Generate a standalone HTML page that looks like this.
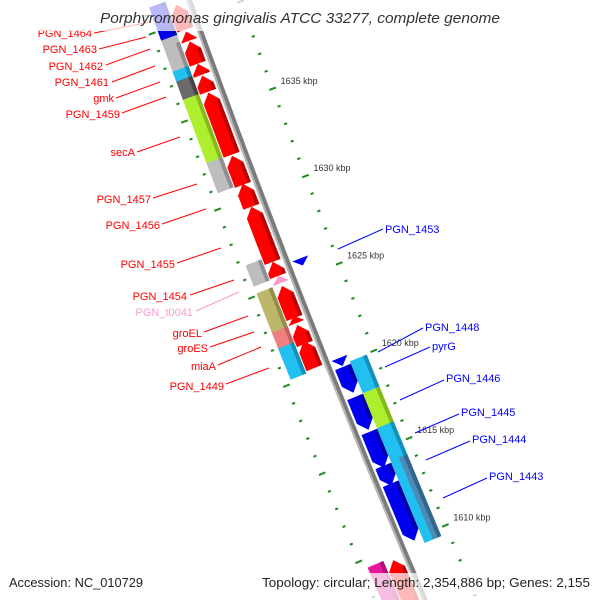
<!DOCTYPE html>
<html><head><meta charset="utf-8">
<style>
html,body{margin:0;padding:0;background:#fff;width:600px;height:600px;overflow:hidden;}
svg{display:block;font-family:"Liberation Sans",sans-serif;overflow:hidden;}
</style></head>
<body>
<svg id="chart" width="600" height="600" viewBox="0 0 600 600">
<defs><clipPath id="frame"><rect x="0" y="0" width="600" height="600"/></clipPath></defs>
<g clip-path="url(#frame)">
<g id="ticks"></g>
<g id="backbone"></g>
<g id="features"></g>
</g>
<g id="leaders" stroke-width="1">
<line x1="94" y1="33" x2="150" y2="22" stroke="#f00"/>
<line x1="99" y1="49" x2="146" y2="37" stroke="#f00"/>
<line x1="106" y1="65" x2="150" y2="49" stroke="#f00"/>
<line x1="112" y1="82" x2="155" y2="66" stroke="#f00"/>
<line x1="116" y1="98" x2="160" y2="82" stroke="#f00"/>
<line x1="122" y1="113" x2="166" y2="97" stroke="#f00"/>
<line x1="137" y1="152" x2="180" y2="137" stroke="#f00"/>
<line x1="153" y1="198" x2="197" y2="184" stroke="#f00"/>
<line x1="162" y1="224" x2="206" y2="209" stroke="#f00"/>
<line x1="177" y1="263" x2="221" y2="248" stroke="#f00"/>
<line x1="190" y1="295" x2="234" y2="280" stroke="#f00"/>
<line x1="196" y1="311" x2="239" y2="292" stroke="#ff99cc"/>
<line x1="204" y1="332" x2="248" y2="316" stroke="#f00"/>
<line x1="210" y1="347" x2="254" y2="332" stroke="#f00"/>
<line x1="218" y1="365" x2="261" y2="347" stroke="#f00"/>
<line x1="226" y1="384" x2="269" y2="368" stroke="#f00"/>
<line x1="338" y1="249" x2="383" y2="229" stroke="#00f"/>
<line x1="378" y1="352" x2="423" y2="328" stroke="#00f"/>
<line x1="385" y1="367" x2="430" y2="347" stroke="#00f"/>
<line x1="400" y1="400" x2="444" y2="380" stroke="#00f"/>
<line x1="415" y1="433" x2="459" y2="414" stroke="#00f"/>
<line x1="426" y1="460" x2="470" y2="441" stroke="#00f"/>
<line x1="443" y1="498" x2="487" y2="478" stroke="#00f"/>
</g>
<g font-size="11" text-anchor="end" fill="#f00">
<text x="92" y="37">PGN_1464</text>
<text x="97" y="53">PGN_1463</text>
<text x="103" y="70">PGN_1462</text>
<text x="109" y="86">PGN_1461</text>
<text x="114" y="102">gmk</text>
<text x="120" y="118">PGN_1459</text>
<text x="135" y="156">secA</text>
<text x="151" y="203">PGN_1457</text>
<text x="160" y="229">PGN_1456</text>
<text x="175" y="268">PGN_1455</text>
<text x="187" y="300">PGN_1454</text>
<text x="193" y="316" fill="#ff99cc">PGN_t0041</text>
<text x="202" y="337">groEL</text>
<text x="208" y="352">groES</text>
<text x="216" y="370">miaA</text>
<text x="224" y="390">PGN_1449</text>
</g>
<g font-size="11" fill="#00f">
<text x="385" y="233">PGN_1453</text>
<text x="425" y="331">PGN_1448</text>
<text x="432" y="350">pyrG</text>
<text x="446" y="382">PGN_1446</text>
<text x="461" y="416">PGN_1445</text>
<text x="472" y="443">PGN_1444</text>
<text x="489" y="480">PGN_1443</text>
</g>
<rect x="0" y="0" width="600" height="31" fill="#fff" opacity="0.72"/>
<rect x="0" y="573" width="600" height="27" fill="#fff" opacity="0.72"/>
<text x="300" y="23" text-anchor="middle" font-size="14.5" font-style="italic" fill="#333" textLength="400" lengthAdjust="spacingAndGlyphs">Porphyromonas gingivalis ATCC 33277, complete genome</text>
<text x="9" y="587" font-size="13" fill="#222" textLength="134" lengthAdjust="spacingAndGlyphs">Accession: NC_010729</text>
<text x="590" y="587" font-size="13" fill="#222" text-anchor="end" textLength="328" lengthAdjust="spacingAndGlyphs">Topology: circular; Length: 2,354,886 bp; Genes: 2,155</text>
</svg>
<script>
// ---- data (kbp coordinates) ----
var featStart = [1641.01,1639.48,1638.91,1637.65,1636.97,1636.00,1632.41,1630.81,1629.50,1626.36,1625.56,1624.99,1623.28,1622.77,1621.86,1609.38,
 1641.36,1639.48,1639.08,1637.71,1637.14,1636.11,1632.52,1626.70,1625.11,1622.88,1621.98,1609.54,
 1626.00,1620.32,1619.81,1618.10,1616.10,1614.16,1613.14,
 1619.95,1618.12,1616.13,1614.25];
var featEnd = [1639.59,1638.96,1637.65,1637.02,1636.05,1632.46,1630.75,1629.50,1626.36,1625.56,1625.16,1623.17,1622.88,1621.69,1620.32,1606.80,
 1639.42,1639.08,1637.65,1637.08,1636.05,1632.52,1630.81,1625.50,1622.83,1621.69,1620.21,1606.80,
 1625.60,1619.86,1618.33,1616.22,1614.05,1613.02,1609.89,
 1618.12,1615.96,1609.57,1609.57];
var featTrack = ['r','r','r','r','r','r','r','r','r','r','r','r','r','r','r','r',
 'g','g','g','g','g','g','g','g','g','g','g','g',
 'b','b','b','b','b','b','b',
 'c','c','c','s'];
var featKind = ['gene','gene','gene','gene','gene','gene','gene','gene','gene','gene','trna','gene','gene','gene','gene','gene',
 'blue','gray','gray','cyan','dgray','lime','gray','gray','khaki','coral','cyan','magenta',
 'gene','gene','gene','gene','gene','gene','gene',
 'cyan','lime','cyan','steel'];
var tickKbp = [];
for (var k = 1642; k >= 1604; k--) tickKbp.push(k);
var majorKbp = [1640,1635,1630,1625,1620,1615,1610,1605];
var labelKbp = [1635,1630,1625,1620,1615,1610];

// ---- geometry ----
var NS = 'http://www.w3.org/2000/svg';
function bx(t){return 189+0.36*t+5.5e-5*t*t;}
function nrm(t){var d=0.36+1.1e-4*t;var L=Math.sqrt(1+d*d);return [1/L,-d/L];}
function P(t,d){var n=nrm(t);return [bx(t)+d*n[0], t+d*n[1]];}
function tOf(kbp){return 105.5+(1635-kbp)*17.54;}
var trackD = {r:[-22,-5], g:[-40,-23], b:[5,22], c:[22,40], s:[31,40]};
var colors = {gene:null, trna:['#ff99cc','#e07aa8'], blue:['#0000ee','#0000aa'], gray:['#bdbdbd','#8f8f8f'],
  cyan:['#22c0f0','#1590b8'], dgray:['#6a6a6a','#444'], lime:['#adef2f','#84b81e'], khaki:['#bdb76b','#948e4c'],
  coral:['#f08080','#c86060'], magenta:['#e8179a','#b0107a'], steel:['#4f86b0','#36658c']};
function pts(a){return a.map(function(p){return p[0].toFixed(1)+','+p[1].toFixed(1);}).join(' ');}
function poly(parent, arr, fill, op){
  var e=document.createElementNS(NS,'polygon');
  e.setAttribute('points', pts(arr)); e.setAttribute('fill', fill);
  if(op) e.setAttribute('opacity', op);
  parent.appendChild(e); return e;
}

// backbone
var bb=document.getElementById('backbone');
var line=[]; for(var t=-30;t<=620;t+=10) line.push(P(t,0));
function pl(w,c){var e=document.createElementNS(NS,'polyline');e.setAttribute('points',pts(line));e.setAttribute('fill','none');e.setAttribute('stroke',c);e.setAttribute('stroke-width',w);bb.appendChild(e);return e;}
pl(6,'#b5b5b5'); var core=pl(3.5,'#7a7a7a');
core.setAttribute('transform','translate(1,0)');

// ticks
var tg=document.getElementById('ticks');
tickKbp.forEach(function(k){
  var t=tOf(k), maj=majorKbp.indexOf(k)>=0;
  [-46,48].forEach(function(d){
    var hl=maj?3.5:1.6;
    var a=P(t,d-hl), b=P(t,d+hl);
    if(a[1]>600||b[1]>600) return;
    var e=document.createElementNS(NS,'line');
    e.setAttribute('x1',a[0]);e.setAttribute('y1',a[1]);e.setAttribute('x2',b[0]);e.setAttribute('y2',b[1]);
    e.setAttribute('stroke','#1f8a1f');e.setAttribute('stroke-width',2);
    
    
    tg.appendChild(e);
  });
});
labelKbp.forEach(function(k){
  var p=P(tOf(k),48);
  var e=document.createElementNS(NS,'text');
  e.setAttribute('x',p[0]+8);e.setAttribute('y',p[1]-5);
  e.setAttribute('font-size','9');e.setAttribute('fill','#333');
  e.textContent=k+' kbp';
  
  
  tg.appendChild(e);
});

// features
var fg=document.getElementById('features');
for(var i=0;i<featStart.length;i++){
  var t0=tOf(featStart[i]), t1=tOf(featEnd[i]);
  var tr=featTrack[i], dd=trackD[tr], d0=dd[0], d1=dd[1], dm=(d0+d1)/2;
  var kind=featKind[i];
  var c = colors[kind] || (tr==='r'?['#ff0000','#c00000']:['#0000ee','#0000a8']);
  var g=document.createElementNS(NS,'g');
  
  
  fg.appendChild(g);
  var len=t1-t0, h=Math.min(9,len);
  var shape, side;
  if(tr==='r'){
    shape=[P(t0,dm),P(t0+h,d1),P(t1,d1),P(t1,d0),P(t0+h,d0)];
    side=[P(t0+h,d1-4),P(t0+h,d1),P(t1,d1),P(t1,d1-4)];
  } else if(tr==='b'){
    shape=[P(t0,d0),P(t0,d1),P(t1-h,d1),P(t1,dm),P(t1-h,d0)];
    side=[P(t0,d1-4),P(t0,d1),P(t1-h,d1),P(t1-h,d1-4)];
  } else {
    shape=[P(t0,d0),P(t0,d1),P(t1,d1),P(t1,d0)];
    side=[P(t0,d1-4),P(t0,d1),P(t1,d1),P(t1,d1-4)];
  }
  poly(g,shape,c[0], kind==='steel'?'0.9':null);
  if(len>h+1) poly(g,side,c[1]);
}
</script>
</body></html>
